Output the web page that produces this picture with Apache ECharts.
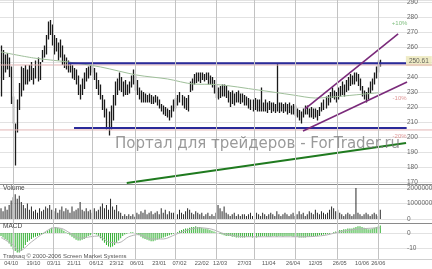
<!DOCTYPE html>
<html><head><meta charset="utf-8">
<script src="https://cdn.jsdelivr.net/npm/echarts@6/dist/echarts.min.js"></script>
<style>html,body{margin:0;padding:0;background:#fff}#c{width:432px;height:269px}</style>
</head><body><div id="c"></div>
<script>
// ---- data (bar index = trading day) ----
const highs = [
261,258,255,256,253,247,227,209,225,236,
247,246,248,245,248,250,246,251,253,250,
258,261,268,277,278,275,268,266,263,265,
261,255,253,251,250,248,246,245,241,235,
239,243,246,247,248,250,246,243,238,235,
228,225,219,217,221,228,237,239,243,240,
237,238,235,237,241,245,241,238,233,231,
230,229,228,229,228,227,228,227,225,222,
221,220,219,218,221,225,226,228,230,228,
227,226,228,237,239,242,243,243,243,243,
242,243,243,241,240,238,235,233,234,235,
235,234,231,230,231,229,230,231,229,229,
228,227,226,225,225,226,225,225,233,223,
225,223,224,223,223,222,249,223,223,222,
223,222,223,221,222,221,219,218,217,219,
221,221,219,220,219,219,218,220,223,225,
227,228,230,233,231,230,233,234,237,235,
238,240,242,241,243,243,242,239,234,231,
230,233,237,239,243,247,251,251.5];
const lows = [
227,238,243,245,240,222,209,181,203,218,
227,231,235,235,237,238,235,239,237,238,
250,253,255,265,268,261,255,257,251,253,
248,246,245,243,243,239,238,235,228,225,
228,232,237,239,241,243,238,232,228,225,
218,213,205,201,205,211,221,228,231,230,
227,228,228,229,233,235,231,228,225,223,
223,223,223,223,222,222,223,221,219,217,
215,214,213,211,213,217,219,221,223,221,
219,218,217,230,231,235,236,237,236,238,
237,238,235,235,233,229,226,225,226,227,
227,226,223,220,222,221,223,223,222,223,
221,221,219,218,217,218,217,217,217,217,
217,216,218,216,217,216,217,216,217,216,
217,215,216,215,215,214,213,211,209,213,
215,215,213,213,212,213,211,214,217,218,
219,221,223,226,225,223,225,227,228,227,
230,231,234,235,235,237,234,231,227,225,
223,225,229,231,235,239,243,247];
// volume in millions
const volumes = [
0.7,0.5,0.8,0.6,0.9,1.2,1.4,1.6,1.3,1.5,
1.1,0.9,0.7,1.0,0.6,0.8,0.5,0.6,0.4,0.7,
0.5,0.6,0.8,0.7,0.9,0.6,0.5,0.7,0.4,0.6,
0.8,0.5,0.7,0.6,0.4,0.8,0.5,0.6,0.7,1.1,
0.6,0.5,0.7,0.5,0.6,0.4,0.7,0.5,0.6,0.8,
1.0,0.7,0.9,0.6,1.3,0.8,0.6,0.9,0.5,0.4,
0.2,0.3,0.2,0.3,0.2,0.3,0.15,0.4,0.3,0.5,
0.4,0.6,0.3,0.4,0.5,0.3,0.4,0.5,0.3,0.7,
0.4,0.6,0.3,0.5,0.4,0.4,0.5,0.3,0.6,0.4,
0.3,0.5,0.7,0.6,0.4,0.3,0.5,0.4,0.3,0.4,
0.2,0.3,0.4,0.2,0.3,0.2,0.4,0.9,0.7,0.5,
0.8,0.4,0.3,0.2,0.3,0.4,0.2,0.3,0.2,0.3,
0.3,0.2,0.3,0.4,0.2,0.3,0.4,0.3,0.2,0.4,
0.3,0.2,0.3,0.4,0.3,0.2,0.5,0.3,0.2,0.3,
0.4,0.3,0.2,0.3,0.4,0.2,0.3,0.5,0.3,0.4,
0.2,0.3,0.5,0.4,0.3,0.6,0.4,0.3,0.5,0.4,
0.3,0.4,0.6,0.8,0.7,0.5,0.6,0.4,0.3,0.2,
0.3,0.4,0.3,0.2,0.3,2.0,0.4,0.3,0.2,0.3,
0.4,0.3,0.2,0.3,0.4,0.3,0.2,0.6];
const macdHist = [
-2,-3,-4,-5,-7,-9,-11,-12,-13,-13,
-12,-10,-8,-6,-5,-4,-3,-2.5,-2,-1.5,
-1,-0.5,0.5,1.5,2.5,3.5,4,4,3.5,3,
2.5,1.5,0.5,-0.5,-1.5,-2.5,-3.5,-4.5,-5,-5,
-4.5,-4,-3,-2,-1.5,-1,-0.5,-1,-2,-3.5,
-5,-6.5,-8,-9,-9.5,-9,-8,-6.5,-5,-3.5,
-2,-1,-0.5,0,0.5,0.5,0,-0.5,-1.5,-2.5,
-3.5,-4,-4.5,-5,-5.5,-5.5,-5,-4.5,-4,-3.5,
-3,-2.5,-2,-1.5,-1,-0.5,0,0.5,1.5,2,
2.5,3,3,3.5,4,4,4.5,4,4,3.5,
3,3,2.5,2,1.5,1,0.5,0,-0.5,-1,
-1.5,-2,-2,-2,-2.5,-2.5,-3,-3,-3,-3,
-3,-2.5,-2.5,-2.5,-3,-3,-3,-2.5,-2.5,-2,
-2,-2.5,-2.5,-2.5,-2,-2,-2.5,-2,-2,-2.5,
-2,-2,-2,-2,-2.5,-2.5,-2.5,-3,-3,-3,
-3,-2.5,-2.5,-2.5,-2,-2,-2,-1.5,-1.5,-1,
-1,-0.5,-0.5,0,0.5,1,1.5,2,2,2.5,
2.5,3,3,3,3.5,4,4.5,4.5,4,3.5,
3,2.5,2.5,3,3.5,4,4.5,5];
const macdSignal = [[0,-3],[6,-8],[9,-12],[15,-6],[21,0],[26,3.5],[30,3],[34,0],[39,-3.5],[44,-2.5],[48,-2],[53,-6],[58,-6.5],[63,-2.5],[68,-1],[74,-4],[80,-4],[86,-1],[92,2],[98,3.5],[104,2.5],[110,-0.5],[120,-2.5],[150,-2.5],[160,-1.5],[166,0.5],[175,2.5],[187,3.5]];
const movingAvg = [[0,256.7],[16,252.7],[33,250],[49,246.7],[67,241.3],[82,238.7],[95,235.3],[106,235],[127,231.3],[144,228],[155,226],[166,227],[178,228.5],[186,229.5]];
const lastPrice = 250.61;
const resistanceLine = [[33,249.2],[199.7,249.2]];
const supportLine = [[36,206],[200,206]];
const channelUpper = [[149.9,218.7],[195.8,268.7]];
const channelLower = [[148.9,204],[200.2,236.7]];
const longTrend = [[62,169.3],[199.7,196]];
const refLevels = [248, 204.7];
const pctNames = ['+10%','-10%','-20%'];
const pctValues = [275.67, 225.55, 200.49];
const dateTickIndex = [5,16,26,36,47,57,67,78,88,99,108,120,132,144,155,167,178,186];
const dateTickLabels = ['04/10','19/10','03/11','21/11','06/12','23/12','06/01','23/01','07/02','22/02','12/03','27/03','11/04','26/04','12/05','26/05','10/06','26/06'];
const monthGridIndex = [6,26,45,66,86,106,125,145,166,186];
const priceLabelTicks = [170,180,190,200,210,220,230,240,260,270,280,290];
const volumeTicks = [0,1,2];
const macdTicks = [-10,0];

// ---- chart ----
const FONT = 'Liberation Sans';
const gridC = '#e2e2e2';
const chart = echarts.init(document.getElementById('c'), null, {renderer:'canvas'});
function xAx(gi, withLabels){
  return {
    type:'value', gridIndex:gi, min:-0.5, max:212.5,
    axisLine:{show:true, onZero:false, lineStyle:{color: gi===2 ? '#cfcfcf' : '#8a8a8a', width:1}},
    axisTick:{show:false},
    splitLine:{show:false},
    axisLabel: withLabels ? {
      show:true, customValues: dateTickIndex, margin:1, fontSize:5.6, color:'#555', fontFamily:FONT,
      formatter: v => { const k = dateTickIndex.indexOf(v); return k>=0 ? dateTickLabels[k] : ''; }
    } : {show:false}
  };
}
function yAx(gi, min, max, splitNumber, labelTicks, fmt){
  return {
    type:'value', gridIndex:gi, position:'right', min, max, splitNumber,
    axisLine:{show:false},
    axisTick:{show:false},
    splitLine:{show:true, lineStyle:{color:gridC, width:1}},
    axisLabel:{show:true, inside:true, align:'left', margin:25, customValues: labelTicks,
      fontSize:6.5, color:'#666', fontFamily:FONT, formatter: fmt || (v => String(v))}
  };
}
function vGrid(gi){
  return {
    type:'line', xAxisIndex:gi, yAxisIndex:gi, data:[], silent:true, symbol:'none',
    markLine:{silent:true, symbol:['none','none'], label:{show:false}, animation:false,
      lineStyle:{color:'#c2c2c2', width:1, type:'solid'},
      data: monthGridIndex.map(v => ({xAxis: v}))}
  };
}
const priceBars = highs.map((h,i)=>[i,h,lows[i]]);
const lineS = (data, color, width, extra) => Object.assign({
  type:'line', xAxisIndex:0, yAxisIndex:0, data, symbol:'none', silent:true,
  lineStyle:{color, width}, animation:false
}, extra||{});

chart.setOption({
  animation:false,
  backgroundColor:'#ffffff',
  title:[
    {text:'Портал для трейдеров - ForTrader.ru', left:115, top:137, padding:0,
     textStyle:{fontFamily:'DejaVu Sans', fontSize:15, fontWeight:'normal', color:'rgba(120,120,120,0.75)'}},
    {text:'Volume', left:3, top:185, padding:0, textStyle:{fontFamily:FONT, fontSize:6.5, fontWeight:'normal', color:'#444'}},
    {text:'MACD', left:3, top:223, padding:0, textStyle:{fontFamily:FONT, fontSize:6.5, fontWeight:'normal', color:'#444'}},
    {text:'Transaq © 2000-2006 Screen Market Systems', left:3, top:253, padding:0, textStyle:{fontFamily:FONT, fontSize:6, fontWeight:'normal', color:'#555'}}
  ],
  grid:[
    {left:0, right:0, top:0, height:184, outerBoundsMode:'none'},
    {left:0, right:0, top:184, height:39, outerBoundsMode:'none'},
    {left:0, right:0, top:223, height:36, outerBoundsMode:'none'}
  ],
  xAxis:[xAx(0,false), xAx(1,false), xAx(2,true)],
  yAxis:[
    yAx(0, 168.667, 291.333, 12, priceLabelTicks),
    yAx(1, -0.258, 2.258, 2, volumeTicks, v => String(Math.round(v*1000000))),
    yAx(2, -17.333, 6.667, 2, macdTicks)
  ],
  series:[
    vGrid(0), vGrid(1), vGrid(2),
    lineS([[-0.5,refLevels[0]],[212.5,refLevels[0]]], '#e2b4b4', 1),
    lineS([[-0.5,refLevels[1]],[212.5,refLevels[1]]], '#e2b4b4', 1),
    lineS(movingAvg, '#9fbf9a', 1, {smooth:0.3}),
    {
      type:'custom', xAxisIndex:0, yAxisIndex:0, data:priceBars, silent:true, animation:false,
      renderItem:(params, api)=>{
        const x = api.value(0);
        const a = api.coord([x, api.value(1)]), b = api.coord([x, api.value(2)]);
        const px = Math.round(a[0]) + 0.5;
        return {type:'line', shape:{x1:px, y1:a[1], x2:px, y2:b[1]}, style:{stroke:'#1a1a1a', lineWidth:1.3}};
      }
    },
    lineS(resistanceLine, '#2a2a9a', 2),
    lineS(supportLine, '#2a2a9a', 2),
    lineS(channelUpper, '#7a2a7a', 1.6),
    lineS(channelLower, '#7a2a7a', 1.6),
    lineS(longTrend, '#1f7a1f', 2),
    {
      type:'scatter', xAxisIndex:0, yAxisIndex:0, symbolSize:0, silent:true,
      data: pctValues.map((v,k)=>({value:[196.5, v], label:{color: k===0 ? '#5fae5f' : '#d47a7a'}})),
      label:{show:true, position:'inside', fontSize:6, fontFamily:FONT, formatter: p => pctNames[p.dataIndex]}
    },
    {
      type:'scatter', xAxisIndex:0, yAxisIndex:0, symbolSize:0, silent:true,
      data:[[206, lastPrice]],
      label:{show:true, position:'inside', fontSize:6.5, fontFamily:FONT, color:'#444',
        backgroundColor:'#ebe6b6', padding:[2,3,1,3], formatter: () => lastPrice.toFixed(2)}
    },
    {
      type:'bar', xAxisIndex:1, yAxisIndex:1, barWidth:1, silent:true,
      data: volumes.map((v,i)=>[i,v]), itemStyle:{color:'#2a2a2a'}
    },
    {
      type:'bar', xAxisIndex:2, yAxisIndex:2, barWidth:1, silent:true, clip:false,
      data: macdHist.map((v,i)=>[i,v]), itemStyle:{color:'#32b032'}
    },
    {
      type:'line', xAxisIndex:2, yAxisIndex:2, data:macdSignal, symbol:'none', silent:true, smooth:0.3,
      lineStyle:{color:'#b5b5b5', width:1}
    }
  ]
});
</script></body></html>
